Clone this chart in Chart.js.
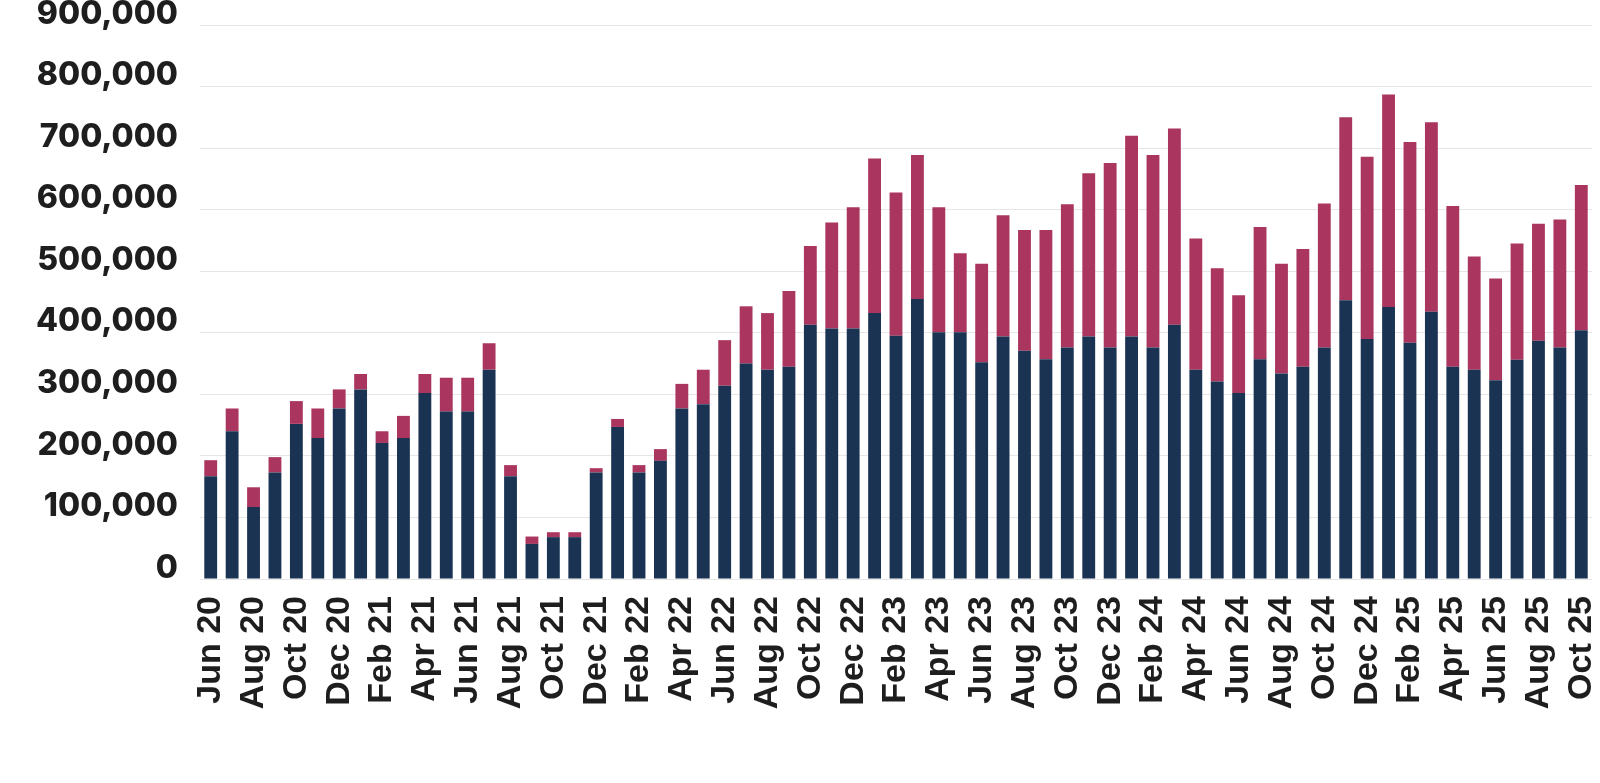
<!DOCTYPE html>
<html>
<head>
<meta charset="utf-8">
<script src="https://cdn.jsdelivr.net/npm/chart.js@4.4.1/dist/chart.umd.min.js"></script>
<style>
html,body{margin:0;padding:0;background:#fff;}
#wrap{width:1600px;height:783px;position:relative;}
</style>
</head>
<body>
<div id="wrap"><canvas id="c"></canvas></div>
<script>
const months = [
 "Jun 20","Jul 20","Aug 20","Sep 20","Oct 20","Nov 20","Dec 20",
 "Jan 21","Feb 21","Mar 21","Apr 21","May 21","Jun 21","Jul 21","Aug 21","Sep 21","Oct 21","Nov 21","Dec 21",
 "Jan 22","Feb 22","Mar 22","Apr 22","May 22","Jun 22","Jul 22","Aug 22","Sep 22","Oct 22","Nov 22","Dec 22",
 "Jan 23","Feb 23","Mar 23","Apr 23","May 23","Jun 23","Jul 23","Aug 23","Sep 23","Oct 23","Nov 23","Dec 23",
 "Jan 24","Feb 24","Mar 24","Apr 24","May 24","Jun 24","Jul 24","Aug 24","Sep 24","Oct 24","Nov 24","Dec 24",
 "Jan 25","Feb 25","Mar 25","Apr 25","May 25","Jun 25","Jul 25","Aug 25","Sep 25","Oct 25"
];

const seriesNavy = [
 167000,240000,117000,173000,252000,229000,277000,
 308000,221000,229000,302000,272000,272000,340000,167000,57000,68000,68000,173000,
 247000,173000,192000,277000,284000,314000,350000,340000,345000,413000,407000,407000,
 432000,395000,455000,401000,401000,352000,394000,371000,357000,376000,394000,376000,
 394000,376000,413000,340000,321000,302000,357000,334000,345000,376000,453000,390000,
 442000,384000,434000,345000,340000,323000,356000,387000,376000,404000
];

const seriesCrimson = [
 26000,37000,32000,25000,37000,48000,31000,
 25000,19000,36000,31000,55000,55000,43000,18000,12000,8000,8000,7000,
 13000,12000,19000,40000,56000,74000,93000,92000,123000,128000,172000,197000,
 251000,233000,234000,203000,128000,160000,197000,196000,210000,233000,265000,300000,
 326000,313000,319000,213000,184000,159000,215000,178000,191000,234000,297000,296000,
 345000,326000,308000,261000,184000,165000,189000,190000,208000,236000
];

const yTicks = [0,100000,200000,300000,400000,500000,600000,700000,800000,900000];

const canvas = document.getElementById('c');
canvas.width = 1600; canvas.height = 783;

new Chart(canvas, {
  type: 'bar',
  data: {
    labels: months,
    datasets: [
      { label: 'A', data: seriesNavy, backgroundColor: '#1b3353', categoryPercentage: 0.6, barPercentage: 1.0 },
      { label: 'B', data: seriesCrimson, backgroundColor: '#aa355e', categoryPercentage: 0.6, barPercentage: 1.0 }
    ]
  },
  options: {
    responsive: false,
    animation: false,
    devicePixelRatio: 1,
    layout: { padding: { top: 25, right: 8, left: 0, bottom: 0 } },
    plugins: { legend: { display: false }, tooltip: { enabled: false } },
    scales: {
      x: {
        stacked: true,
        grid: { display: false, drawTicks: false },
        border: { display: false },
        ticks: {
          autoSkip: false,
          maxRotation: 90,
          minRotation: 90,
          padding: 17,
          color: '#1e1e1e',
          font: { family: '"Liberation Sans", Arial, sans-serif', size: 34, weight: 'bold' },
          callback: function(v, i) { return i % 2 === 0 ? months[i] : ''; }
        },
        afterFit: function(s) { s.height = 204; s.paddingLeft = 0; s.paddingRight = 0; }
      },
      y: {
        stacked: true,
        min: 0,
        max: 900000,
        afterBuildTicks: function(s) { s.ticks = yTicks.map(v => ({ value: v })); },
        grid: { color: '#e6e6e6', lineWidth: 1, drawTicks: false },
        border: { display: false },
        ticks: {
          padding: 22,
          labelOffset: -11,
          color: '#1e1e1e',
          font: { family: 'Inter, "Noto Sans", sans-serif', size: 32, weight: '800' },
          callback: function(v) { return v.toLocaleString('en-US'); }
        },
        afterFit: function(s) { s.width = 200; s.paddingTop = 0; s.paddingBottom = 0; }
      }
    }
  }
});
</script>
</body>
</html>
